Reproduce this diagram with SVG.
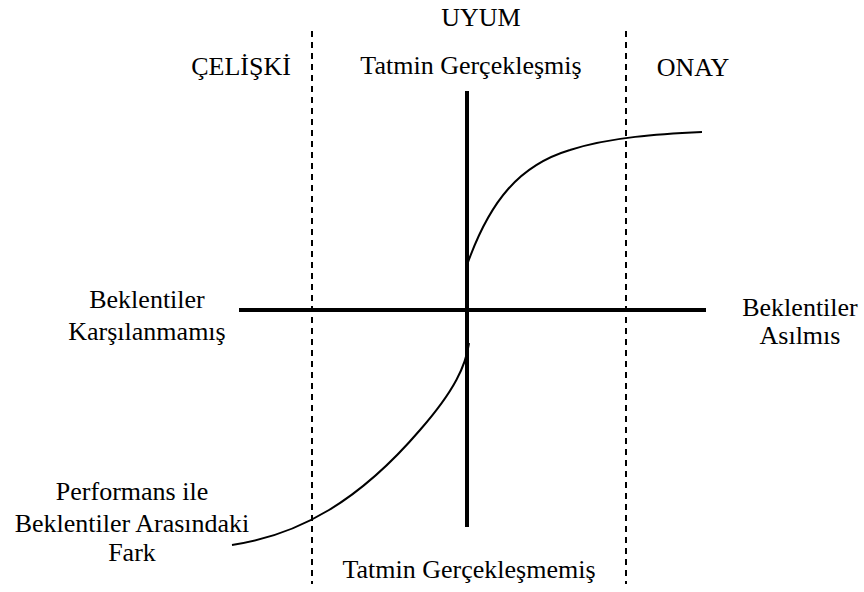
<svg xmlns="http://www.w3.org/2000/svg" width="864" height="592" viewBox="0 0 864 592">
<style>
.dash{stroke:#000;stroke-width:2;stroke-dasharray:6,5;fill:none}
.axis{stroke:#000;stroke-width:4;fill:none}
.curve{stroke:#000;stroke-width:2;fill:none}
.lbl{font-family:"Liberation Serif","Times New Roman",serif;font-size:26px;fill:#000;text-anchor:middle}
</style>
<rect width="864" height="592" fill="#fff"/>
<g id="connectors">
<line class="dash" x1="312" y1="31" x2="312" y2="584"/>
<line class="dash" x1="626" y1="31" x2="626" y2="584"/>
<line class="axis" x1="239" y1="310" x2="706" y2="310"/>
<line class="axis" x1="467" y1="91" x2="467" y2="527"/>
<path class="curve" d="M467,265 C490,200 520,165 570,150 C610,137 660,134 702,132"/>
<path class="curve" d="M232,545 C300,535 360,500 420,430 C455,390 466,365 469,343"/>
</g>
<g id="uyum"><text class="lbl" x="481" y="26">UYUM</text></g>
<g id="celiski"><text class="lbl" x="241" y="75">ÇELİŞKİ</text></g>
<g id="tatmin"><text class="lbl" x="471" y="74">Tatmin Gerçekleşmiş</text></g>
<g id="onay"><text class="lbl" x="693" y="76">ONAY</text></g>
<g id="karsilanmamis"><text class="lbl" x="147" y="308">Beklentiler</text><text class="lbl" x="147" y="340">Karşılanmamış</text></g>
<g id="asilmis"><text class="lbl" x="800" y="316">Beklentiler</text><text class="lbl" x="800" y="344">Asılmıs</text></g>
<g id="fark"><text class="lbl" x="132" y="500">Performans ile</text><text class="lbl" x="132" y="532">Beklentiler Arasındaki</text><text class="lbl" x="132" y="561">Fark</text></g>
<g id="tatmin-yok"><text class="lbl" x="469" y="578">Tatmin Gerçekleşmemiş</text></g>
</svg>
